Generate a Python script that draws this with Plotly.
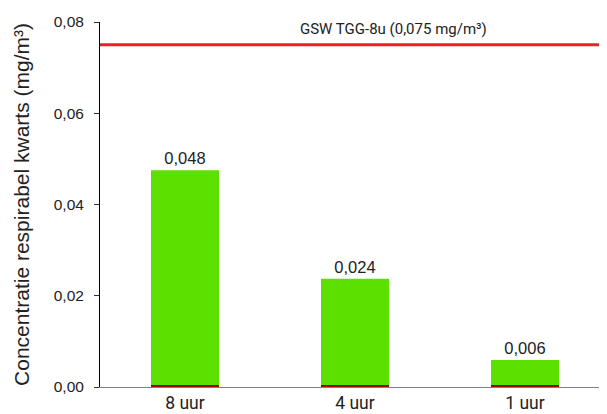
import plotly.graph_objects as go

categories = ["8 uur", "4 uur", "1 uur"]
values = [0.0475, 0.0237, 0.0059]
value_labels = ["0,048", "0,024", "0,006"]
limit_value = 0.075
limit_label = "GSW TGG-8u (0,075 mg/m³)"
y_ticks = [0, 0.02, 0.04, 0.06, 0.08]

fig = go.Figure()
fig.add_trace(go.Bar(
    x=categories, y=values, width=0.4,
    marker=dict(color="#5BE000", line=dict(width=0)),
    text=value_labels, textposition="outside", cliponaxis=False,
    textfont=dict(family="Liberation Sans, Arial", size=16.5, color="#222"),
))
# dark red baseline under the bars
fig.add_trace(go.Bar(
    x=categories, y=[0.0004] * len(categories), width=0.4,
    marker=dict(color="#A00000", line=dict(width=0)), hoverinfo="skip",
))
fig.add_shape(type="line", xref="paper", x0=0, x1=1, yref="y",
              y0=limit_value, y1=limit_value,
              line=dict(color="#E8202A", width=3))
fig.add_annotation(xref="paper", x=0.575, yref="y", y=limit_value,
                   text=limit_label, showarrow=False, yanchor="bottom", yshift=5,
                   font=dict(family="Roboto, Liberation Sans", size=15, color="#222"))

fig.update_layout(
    width=607, height=414,
    margin=dict(l=92, r=5, t=11, b=35),
    paper_bgcolor="white", plot_bgcolor="white",
    showlegend=False, separators=",.", barmode="overlay",
    xaxis=dict(showline=True, linecolor="#808080", linewidth=1,
               ticks="", ticklabelstandoff=0,
               tickfont=dict(family="Roboto, Liberation Sans", size=17.5, color="#222")),
    yaxis=dict(range=[0, 0.08], tickvals=y_ticks, tickformat=".2f",
               showgrid=False, zeroline=False, showline=True, linecolor="black", linewidth=1,
               ticks="outside", ticklen=5, tickcolor="#333", ticklabelstandoff=7,
               tickfont=dict(family="Liberation Sans, Arial", size=15.5, color="#222"),
               title=dict(text="Concentratie respirabel kwarts (mg/m³)",
                          font=dict(family="Liberation Sans, Arial", size=21, color="#222"),
                          standoff=18)),
)

fig.write_html("out.html")
